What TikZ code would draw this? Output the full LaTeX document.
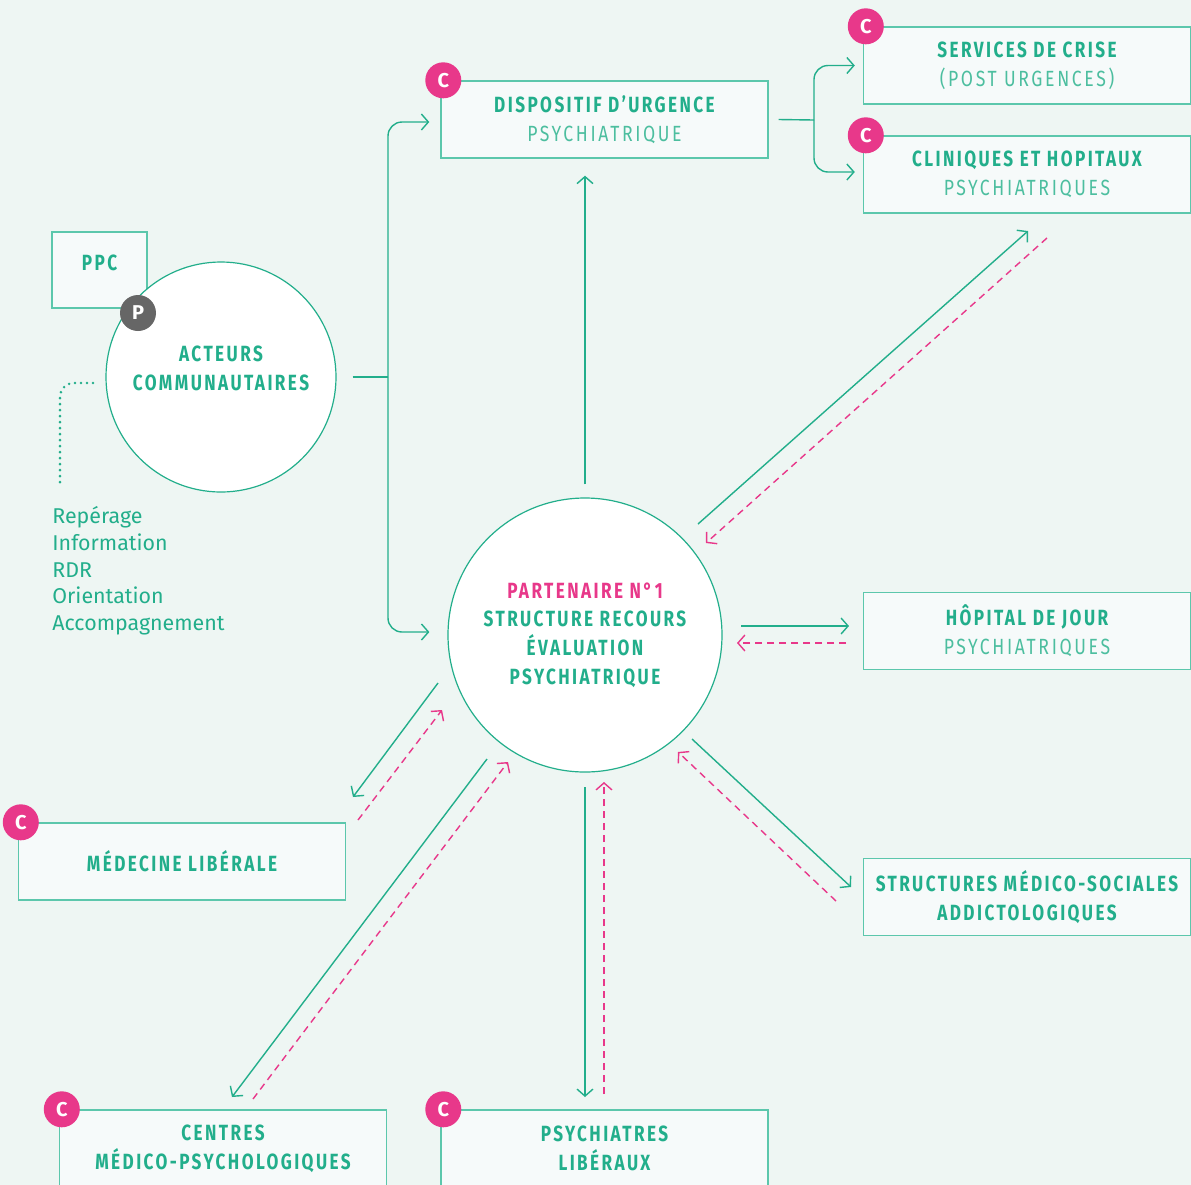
\documentclass[tikz,border=0pt]{standalone}
\usepackage{fontspec}
\setmainfont{Fira Sans}
\newfontfamily\capsfont[FakeStretch=0.78,LetterSpace=11]{Fira Sans}
\newfontfamily\softfont[FakeStretch=0.8,LetterSpace=12]{Fira Sans}
\usetikzlibrary{arrows.meta,positioning}

\definecolor{mintbg}{HTML}{EEF6F3}
\definecolor{teal}{HTML}{22AE8B}
\definecolor{tealsoft}{HTML}{4CBE9F}
\definecolor{boxline}{HTML}{5CC7AC}
\definecolor{boxfill}{HTML}{F6FAFA}
\definecolor{pinkc}{HTML}{E8388A}
\definecolor{greyc}{HTML}{666666}

\newcommand\soft[1]{{\softfont\mdseries\color{tealsoft}#1}}

\tikzset{
  box/.style={draw=boxline, fill=boxfill, line width=0.7pt,
    minimum width=163.5pt, minimum height=38.5pt, inner sep=0pt,
    align=center, text=teal,
    font=\capsfont\bfseries\fontsize{11}{14.5}\selectfont},
  bubble/.style={circle, draw=teal, fill=white, line width=0.6pt, inner sep=0pt},
  caps/.style={align=center, text=teal,
    font=\capsfont\bfseries\fontsize{11}{14.4}\selectfont},
  badge/.style={circle, fill=pinkc, minimum size=18pt, inner sep=0pt,
    text=white, font=\bfseries\fontsize{10}{10}\selectfont},
  flow/.style={draw=teal, line width=0.7pt,
    -{Straight Barb[length=3.5pt,width=8pt,line width=0.7pt]}},
  back/.style={draw=pinkc, line width=0.7pt, dash pattern=on 3.5pt off 2.5pt,
    -{Straight Barb[length=3.5pt,width=8pt,line width=0.7pt]}},
  link/.style={draw=teal, line width=0.7pt},
}

\begin{document}
\begin{tikzpicture}[x=0.5pt,y=-0.5pt]
\path[fill=mintbg,use as bounding box] (0,0) rectangle (1191,1185);

% acteurs communautaires
\node[box, minimum width=47.5pt, minimum height=38pt] (ppc) at (99.5,270) {};
\node[caps] at (ppc.center) [yshift=3.5pt] {PPC};
\node[bubble, minimum size=115pt] (acteurs) at (221,377) {};
\node[caps] at (acteurs.center) [yshift=4.25pt] {ACTEURS\\COMMUNAUTAIRES};
\node[badge, fill=greyc] (p) at (138,313) {P};
\draw[teal, line width=1.4pt, line cap=round, dash pattern=on 0pt off 3pt,
  rounded corners=7pt] (93,383) -| (60,487);
\node[anchor=north west, inner sep=0pt, align=left, text=teal,
  font=\fontsize{10.7}{13.4}\selectfont] (roles) at (52,506)
  {Repérage\\Information\\RDR\\Orientation\\Accompagnement};

% partenaire
\node[bubble, minimum size=137pt] (partenaire) at (585,635) {};
\node[caps] at (partenaire.center) [yshift=0pt]
  {\textcolor{pinkc}{PARTENAIRE N°1}\\STRUCTURE RECOURS\\ÉVALUATION\\PSYCHIATRIQUE};

% structures
\node[box] (urgence) at (604.5,119.5) {DISPOSITIF D’URGENCE\\\soft{PSYCHIATRIQUE}};
\node[box] (crise) at (1027,65.5) {SERVICES DE CRISE\\\soft{(POST URGENCES)}};
\node[box] (cliniques) at (1027,174.5) {CLINIQUES ET HOPITAUX\\\soft{PSYCHIATRIQUES}};
\node[box] (hopjour) at (1027,631) {HÔPITAL DE JOUR\\\soft{PSYCHIATRIQUES}};
\node[box] (medsoc) at (1027,897) {STRUCTURES MÉDICO-SOCIALES\\ADDICTOLOGIQUES};
\node[box] (medlib) at (182,861.5) {MÉDECINE LIBÉRALE};
\node[box] (cmp) at (223,1148.5) {CENTRES\\MÉDICO-PSYCHOLOGIQUES};
\node[box] (psylib) at (604.5,1148.5) {PSYCHIATRES\\LIBÉRAUX};

\foreach \n in {urgence,crise,cliniques,medlib,cmp,psylib}
  \node[badge] at ([xshift=1.5pt]\n.north west) {C};

% branches
\coordinate (fork) at (388,377);
\coordinate (fork2) at (814,120);
\draw[link] ([xshift=8pt]acteurs.east) -- (fork);
\draw[flow, rounded corners=7pt] (fork) |- ([xshift=-5.5pt,yshift=-1.25pt]urgence.west);
\draw[flow, rounded corners=7pt] (fork) |- ([xshift=-9pt,yshift=1.5pt]partenaire.west);
\draw[link] ([xshift=5pt]urgence.east) -- (fork2);
\draw[flow, rounded corners=7pt] (fork2) |- ([xshift=-4pt]crise.west);
\draw[flow, rounded corners=7pt] (fork2) |- ([xshift=-4pt,yshift=1.25pt]cliniques.west);
\draw[flow] ([yshift=6.5pt]partenaire.north) -- ([yshift=-8.5pt]partenaire.north |- urgence.south);

% allers et retours
\coordinate (cli-a) at (698,524);  \coordinate (cli-b) at (1028,231);
\coordinate (cli-c) at (1047,238); \coordinate (cli-d) at (706,543);
\coordinate (hj-a) at (741,626);   \coordinate (hj-b) at (849,626);
\coordinate (hj-c) at (846,643);   \coordinate (hj-d) at (737,643);
\coordinate (ms-a) at (692,739);   \coordinate (ms-b) at (851,887);
\coordinate (ms-c) at (836,901);   \coordinate (ms-d) at (678,752);
\coordinate (pl-a) at (585,787);   \coordinate (pl-b) at (585,1097);
\coordinate (pl-c) at (604,1094);  \coordinate (pl-d) at (604,782);
\coordinate (cm-a) at (487,759);   \coordinate (cm-b) at (232,1097);
\coordinate (cm-c) at (253,1099);  \coordinate (cm-d) at (508,762);
\coordinate (ml-a) at (438,683);   \coordinate (ml-b) at (353,797);
\coordinate (ml-c) at (358,820);   \coordinate (ml-d) at (442,710);
\foreach \k in {cli,hj,ms,pl,cm,ml}{
  \draw[flow] (\k-a) -- (\k-b);
  \draw[back] (\k-c) -- (\k-d);
}
\end{tikzpicture}
\end{document}
